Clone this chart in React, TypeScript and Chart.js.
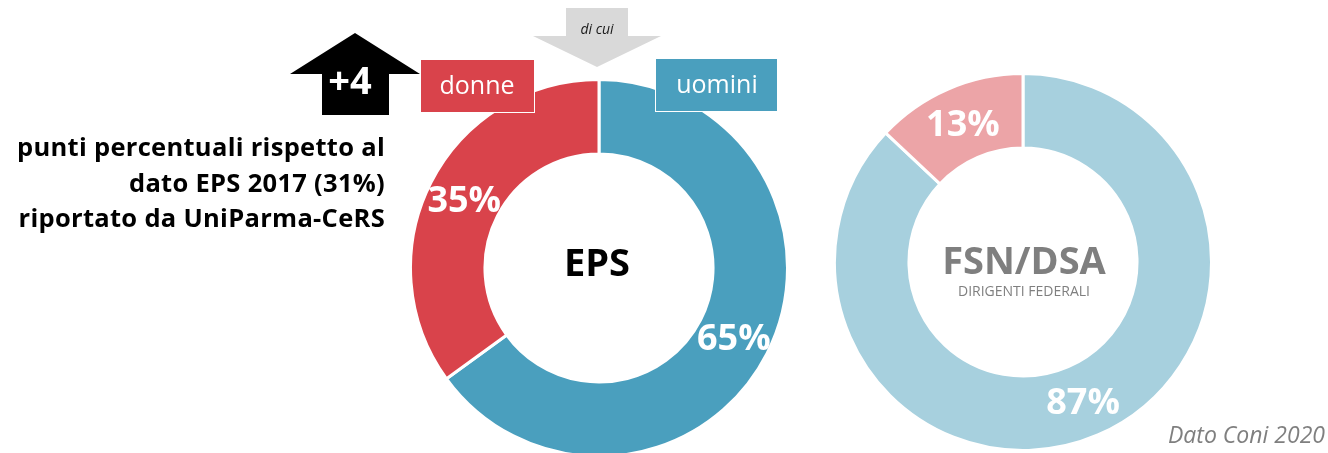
import React, { useEffect, useRef } from "react";
import { Chart, registerables } from "chart.js";
Chart.register(...registerables);

const categories = ["uomini", "donne"];
const epsValues = [65, 35];
const fsnValues = [87, 13];
const epsColors = ["#4A9FBE", "#D9434B"];
const fsnColors = ["#A7D0DE", "#ECA4A7"];
const noteLines = ["punti percentuali rispetto al", "dato EPS 2017 (31%)", "riportato da UniParma-CeRS"];
const deltaLabel = "+4";
const sourceLabel = "Dato Coni 2020";

const FONT = '"Open Sans", sans-serif';

const arcLabelPlugin = {
  id: "arcLabels",
  afterDatasetsDraw(chart: any) {
    const ctx = chart.ctx;
    const meta = chart.getDatasetMeta(0);
    const data = chart.data.datasets[0].data;
    const size = 36;
    ctx.save();
    ctx.fillStyle = "#ffffff";
    ctx.font = `bold ${size}px ${FONT}`;
    ctx.textAlign = "center";
    ctx.textBaseline = "alphabetic";
    meta.data.forEach((arc: any, i: number) => {
      const p = arc.tooltipPosition();
      ctx.fillText(`${data[i]}%`, p.x, p.y + size * 0.357);
    });
    ctx.restore();
  },
};

function Donut({ values, colors, left, top }: { values: number[]; colors: string[]; left: number; top: number }) {
  const ref = useRef<HTMLCanvasElement | null>(null);
  useEffect(() => {
    const chart = new Chart(ref.current as HTMLCanvasElement, {
      type: "doughnut",
      data: {
        labels: categories,
        datasets: [
          {
            data: values,
            backgroundColor: colors,
            borderColor: "#ffffff",
            borderWidth: 3,
          },
        ],
      },
      options: {
        animation: false,
        responsive: false,
        cutout: "60.5%",
        layout: { padding: 0 },
        plugins: { legend: { display: false }, tooltip: { enabled: false } },
      },
      plugins: [arcLabelPlugin],
    } as any);
    return () => chart.destroy();
  }, []);
  return (
    <canvas
      ref={ref}
      width={380}
      height={380}
      style={{ position: "absolute", left, top, width: 380, height: 380 }}
    />
  );
}

function T({
  text,
  x,
  baseline,
  size,
  weight = 400,
  italic = false,
  color = "#000",
  align = "center",
  spacing = 0,
}: {
  text: string;
  x: number;
  baseline: number;
  size: number;
  weight?: number;
  italic?: boolean;
  color?: string;
  align?: "center" | "right" | "left";
  spacing?: number;
}) {
  const w = 800;
  const left = align === "center" ? x - w / 2 : align === "right" ? x - w : x;
  return (
    <div
      style={{
        position: "absolute",
        left,
        width: w,
        top: baseline - 0.888 * size,
        fontFamily: FONT,
        fontSize: size,
        lineHeight: `${size}px`,
        fontWeight: weight,
        fontStyle: italic ? "italic" : "normal",
        letterSpacing: spacing,
        color,
        textAlign: align,
        whiteSpace: "nowrap",
      }}
    >
      {text}
    </div>
  );
}

export default function App() {
  return (
    <div
      style={{
        position: "fixed",
        left: 0,
        top: 0,
        width: 1328,
        height: 453,
        overflow: "hidden",
        background: "#ffffff",
      }}
    >
      <Donut values={epsValues} colors={epsColors} left={409} top={78} />
      <Donut values={fsnValues} colors={fsnColors} left={833} top={72} />
      <svg width={1328} height={453} style={{ position: "absolute", left: 0, top: 0 }}>
        <polygon points="355,33 420,74 389,74 389,115 322,115 322,74 290,74" fill="#000000" />
        <polygon points="566,8 628,8 628,36 661,36 597,67 533,36 566,36" fill="#D9D9D9" />
      </svg>
      <div
        style={{
          position: "absolute",
          left: 420,
          top: 59,
          width: 115,
          height: 54,
          background: "#D9434B",
          border: "1px solid #fff",
          boxSizing: "border-box",
        }}
      />
      <div
        style={{
          position: "absolute",
          left: 655,
          top: 58,
          width: 123,
          height: 54,
          background: "#4A9FBE",
          border: "1px solid #fff",
          boxSizing: "border-box",
        }}
      />
      <T text={deltaLabel} x={350} baseline={93.3} size={38} weight={700} color="#ffffff" />
      <T text={categories[1]} x={477} baseline={94} size={25} color="#ffffff" />
      <T text={categories[0]} x={717} baseline={93.3} size={25} color="#ffffff" />
      <T text="di cui" x={597} baseline={34.3} size={14} italic color="#1a1a1a" />
      {noteLines.map((l, i) => (
        <T
          key={i}
          text={l}
          x={385}
          baseline={156.5 + i * 35.8}
          size={25.5}
          weight={700}
          align="right"
          spacing={0.3}
        />
      ))}
      <T text="EPS" x={597} baseline={276} size={38} weight={700} />
      <T text="FSN/DSA" x={1024} baseline={273.3} size={38} weight={700} color="#7F7F7F" />
      <T text="DIRIGENTI FEDERALI" x={1024} baseline={296.7} size={14} color="#7F7F7F" />
      <T text={sourceLabel} x={1325} baseline={443} size={23} italic color="#7F7F7F" align="right" />
    </div>
  );
}
